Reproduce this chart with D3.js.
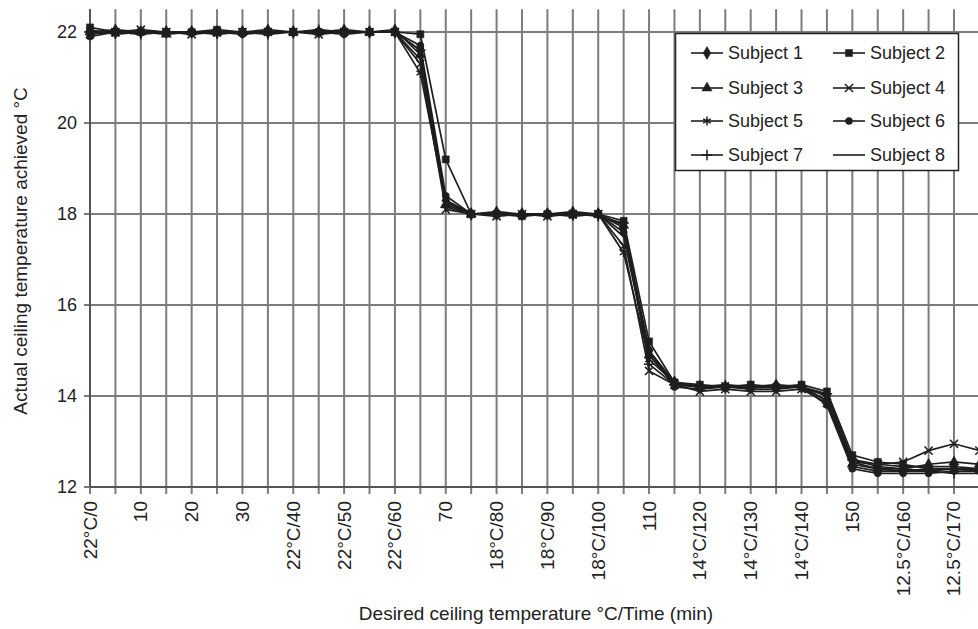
<!DOCTYPE html>
<html>
<head>
    <meta charset="utf-8" />
    <title> ceiling temperature </title>
    <script src="https://cdn.jsdelivr.net/npm/d3@7"></script>
    <style>
        body { margin: 0px; background: #fff; }
        text { font-family: "Liberation Sans", Arial, sans-serif; fill: #222; }
    </style>
</head>
<body>
<svg id="chart" width="978" height="629"></svg>
<script>

    // time points (min)
    var times = [0,5,10,15,20,25,30,35,40,45,50,55,60,65,70,75,80,85,90,95,100,105,110,115,120,125,130,135,140,145,150,155,160,165,170,175];

    var tickTimes  = [0,10,20,30,40,50,60,70,80,90,100,110,120,130,140,150,160,170];
    var tickLabels = ['22°C/0','10','20','30','22°C/40','22°C/50','22°C/60','70','18°C/80','18°C/90','18°C/100','110','14°C/120','14°C/130','14°C/140','150','12.5°C/160','12.5°C/170'];

    var yTicks = [12,14,16,18,20,22];

    var subjectNames = ['Subject 1','Subject 2','Subject 3','Subject 4','Subject 5','Subject 6','Subject 7','Subject 8'];

    var subject1 = [22.0,22.0,22.0,22.0,22.0,22.0,22.0,22.0,22.0,22.0,22.0,22.0,22.0,21.6,18.3,18.0,18.0,18.0,18.0,18.0,18.0,17.7,15.0,14.3,14.2,14.2,14.2,14.2,14.2,14.0,12.6,12.5,12.45,12.45,12.45,12.4];
    var subject2 = [22.1,22.0,22.0,22.0,22.0,22.05,22.0,22.0,22.0,22.0,22.0,22.0,22.0,21.95,19.2,18.0,18.0,17.95,18.0,18.0,18.0,17.85,15.2,14.3,14.25,14.2,14.25,14.2,14.25,14.1,12.7,12.55,12.5,12.4,12.4,12.4];
    var subject3 = [22.0,22.05,22.0,21.95,22.0,22.0,22.0,22.05,22.0,22.0,22.05,22.0,22.05,21.5,18.2,18.0,18.05,18.0,18.0,18.05,18.0,17.75,14.9,14.3,14.2,14.2,14.2,14.25,14.2,13.9,12.5,12.4,12.4,12.5,12.55,12.5];
    var subject4 = [21.95,22.0,22.05,22.0,21.95,22.0,22.0,22.0,22.0,21.95,22.0,22.0,22.0,21.3,18.1,18.0,17.95,18.0,17.95,18.0,18.0,17.3,14.55,14.25,14.1,14.15,14.1,14.1,14.15,13.85,12.55,12.5,12.55,12.8,12.95,12.8];
    var subject5 = [22.05,21.95,22.0,22.0,22.0,21.95,22.0,22.0,22.0,22.0,22.0,22.0,22.0,21.1,18.25,18.0,18.0,18.0,18.0,17.95,18.0,17.15,14.8,14.3,14.2,14.25,14.2,14.2,14.2,13.9,12.45,12.35,12.35,12.4,12.4,12.35];
    var subject6 = [21.9,22.0,22.0,22.0,22.0,22.0,21.95,22.0,22.0,22.0,21.95,22.0,22.0,21.7,18.4,18.0,18.0,18.0,18.0,18.0,18.0,17.6,15.0,14.2,14.15,14.2,14.15,14.15,14.2,13.8,12.4,12.3,12.3,12.3,12.35,12.35];
    var subject7 = [22.0,22.0,21.95,22.0,22.0,22.0,22.0,21.95,22.0,22.05,22.0,22.0,22.0,21.6,18.15,18.0,18.0,18.0,18.0,18.0,17.95,17.8,14.7,14.25,14.2,14.2,14.2,14.2,14.2,14.05,12.6,12.45,12.4,12.35,12.3,12.3];
    var subject8 = [22.0,22.0,22.0,22.0,22.0,22.0,22.0,22.0,22.0,22.0,22.0,22.0,22.0,21.4,18.3,18.0,18.0,18.0,18.0,18.0,18.0,17.5,14.9,14.25,14.2,14.2,14.2,14.2,14.2,14.0,12.55,12.4,12.35,12.35,12.4,12.4];

    function main() {

        var series = [subject1,subject2,subject3,subject4,subject5,subject6,subject7,subject8];

        // marker per subject (null = plain line)
        var markers = [
            {type: d3.symbolDiamond, size: 50, fill: true},
            {type: d3.symbolSquare, size: 50, fill: true},
            {type: d3.symbolTriangle, size: 45, fill: true},
            {type: d3.symbolTimes, size: 45, fill: false},
            {type: d3.symbolAsterisk, size: 55, fill: false},
            {type: d3.symbolCircle, size: 40, fill: true},
            {type: d3.symbolPlus, size: 38, fill: false},
            null
        ];

        var svg = d3.select('#chart');

        var x = d3.scaleLinear().domain([0,175]).range([90,979.4]);
        var y = d3.scaleLinear().domain([12,22.5]).range([487,9.25]);

        var grid = svg.append('g').attr('class','grid');

        //세로 격자
        grid.selectAll('line.v').data(times).enter().append('line')
            .attr('class','v')
            .attr('x1',function(d){ return x(d); })
            .attr('x2',function(d){ return x(d); })
            .attr('y1',y(22.5))
            .attr('y2',y(12) + 7)
            .style('stroke','#7c7c7c')
            .style('stroke-width',2);

        //가로 격자
        grid.selectAll('line.h').data(yTicks).enter().append('line')
            .attr('class','h')
            .attr('x1',x(0) - 6)
            .attr('x2',978)
            .attr('y1',function(d){ return y(d); })
            .attr('y2',function(d){ return y(d); })
            .style('stroke','#7c7c7c')
            .style('stroke-width',2);

        // axis lines
        svg.append('line')
            .attr('x1',x(0)).attr('x2',x(0))
            .attr('y1',y(22.5)).attr('y2',y(12))
            .style('stroke','#555').style('stroke-width',2);
        svg.append('line')
            .attr('x1',x(0)).attr('x2',978)
            .attr('y1',y(12)).attr('y2',y(12))
            .style('stroke','#555').style('stroke-width',2);

        // y tick labels
        svg.append('g').selectAll('text').data(yTicks).enter().append('text')
            .attr('x',77)
            .attr('y',function(d){ return y(d); })
            .attr('dy','0.35em')
            .attr('text-anchor','end')
            .style('font-size','18px')
            .text(function(d){ return d; });

        // x tick labels (rotated)
        svg.append('g').selectAll('text').data(tickTimes).enter().append('text')
            .attr('transform',function(d){ return 'translate(' + (x(d) + 6.5) + ',' + 501 + ') rotate(-90)'; })
            .attr('text-anchor','end')
            .style('font-size','19px')
            .text(function(d,i){ return tickLabels[i]; });

        // axis titles
        svg.append('text')
            .attr('transform','translate(27,251) rotate(-90)')
            .attr('text-anchor','middle')
            .style('font-size','19px')
            .text('Actual ceiling temperature achieved °C');

        svg.append('text')
            .attr('x',536)
            .attr('y',620)
            .attr('text-anchor','middle')
            .style('font-size','19px')
            .text('Desired ceiling temperature °C/Time (min)');

        var line = d3.line()
            .x(function(d,i){ return x(times[i]); })
            .y(function(d){ return y(d); });

        var plot = svg.append('g').attr('class','plot');

        series.forEach(function(values, k) {
            plot.append('path')
                .datum(values)
                .attr('d',line)
                .style('fill','none')
                .style('stroke','#1e1e1e')
                .style('stroke-width',1.7);

            var m = markers[k];
            if (!m) return;
            var sym = d3.symbol().type(m.type).size(m.size);
            plot.append('g').selectAll('path').data(values).enter().append('path')
                .attr('transform',function(d,i){ return 'translate(' + x(times[i]) + ',' + y(d) + ')'; })
                .attr('d',sym)
                .style('fill',m.fill ? '#1e1e1e' : 'none')
                .style('stroke','#1e1e1e')
                .style('stroke-width',m.fill ? 0.5 : 1.5);
        });

        //범례
        var legend = svg.append('g').attr('class','legend');
        legend.append('rect')
            .attr('x',675.5).attr('y',33.5)
            .attr('width',283).attr('height',137)
            .style('fill','#fff')
            .style('stroke','#222')
            .style('stroke-width',1.5);

        var rowY = [53,88,121,155];
        var colX = [691,833];

        subjectNames.forEach(function(name, k) {
            var cx = colX[k % 2];
            var cy = rowY[Math.floor(k / 2)];
            legend.append('line')
                .attr('x1',cx).attr('x2',cx + 32)
                .attr('y1',cy).attr('y2',cy)
                .style('stroke','#1e1e1e').style('stroke-width',1.6);
            var m = markers[k];
            if (m) {
                legend.append('path')
                    .attr('transform','translate(' + (cx + 16) + ',' + cy + ')')
                    .attr('d',d3.symbol().type(m.type).size(m.size))
                    .style('fill',m.fill ? '#1e1e1e' : 'none')
                    .style('stroke','#1e1e1e')
                    .style('stroke-width',m.fill ? 0.5 : 1.5);
            }
            legend.append('text')
                .attr('x',cx + 37)
                .attr('y',cy)
                .attr('dy','0.35em')
                .style('font-size','18px')
                .text(name);
        });
    }

    main();

</script>
</body>
</html>
